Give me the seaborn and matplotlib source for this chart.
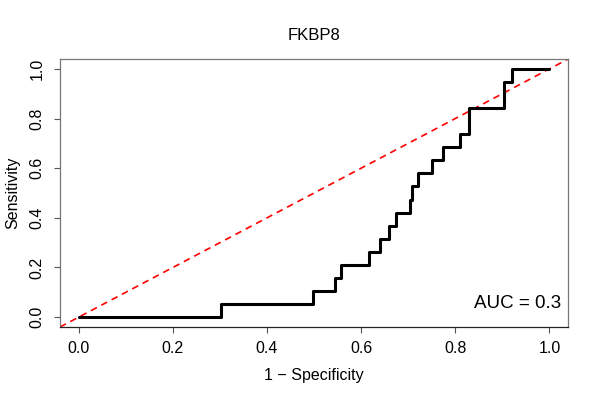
import matplotlib
matplotlib.use("Agg")
import matplotlib.pyplot as plt
import seaborn as sns
import pandas as pd

# ROC points (1 - specificity, sensitivity), 19 positives
fpr = [0.0, 0.303, 0.497, 0.544, 0.558, 0.616, 0.640, 0.659, 0.674, 0.703,
       0.708, 0.720, 0.750, 0.774, 0.810, 0.830, 0.904, 0.920, 1.0]
tpr_counts = [0, 1, 2, 3, 4, 5, 6, 7, 8, 9, 10, 11, 12, 13, 14, 16, 18, 19, 19]
n_pos = 19
gene = "FKBP8"
auc_text = "AUC = 0.3"
ticks = [0.0, 0.2, 0.4, 0.6, 0.8, 1.0]

sns.set_style("white")
plt.rcParams["font.family"] = ["Liberation Sans", "DejaVu Sans"]
plt.rcParams["text.color"] = "black"
plt.rcParams["axes.labelcolor"] = "black"
plt.rcParams["xtick.color"] = "black"
plt.rcParams["ytick.color"] = "black"

roc = pd.DataFrame({"fpr": fpr, "tpr": [c / n_pos for c in tpr_counts]})

fig = plt.figure(figsize=(6, 4), dpi=100)
ax = fig.add_axes([0.1, 0.1825, 0.847, 0.67])

# chance line across the whole frame
ax.axline((0, 0), slope=1, color="red", linestyle=(0, (4, 3)), linewidth=1.2)
sns.lineplot(data=roc, x="fpr", y="tpr", ax=ax, color="black", linewidth=2.2,
             estimator=None, sort=False, drawstyle="steps-post")

ax.set_xlim(-0.04, 1.04)
ax.set_ylim(-0.04, 1.04)
ax.set_xticks(ticks)
ax.set_yticks(ticks)
ax.set_xticklabels([f"{t:.1f}" for t in ticks], fontsize=11.5)
ax.set_yticklabels([f"{t:.1f}" for t in ticks], fontsize=11.5, rotation=90, va="center")
ax.tick_params(axis="both", direction="out", length=4, width=0.8,
               bottom=True, left=True, color="#555555", labelcolor="black")
ax.tick_params(axis="x", pad=6)
ax.tick_params(axis="y", pad=7)

for side in ["left", "top", "right"]:
    ax.spines[side].set_color("#777777")
    ax.spines[side].set_linewidth(0.9)
ax.spines["bottom"].set_color("#222222")
ax.spines["bottom"].set_linewidth(0.9)

ax.set_xlabel("1 \u2212 Specificity", fontsize=11.5, labelpad=9)
ax.set_ylabel("Sensitivity", fontsize=11.5, labelpad=7)
ax.set_title(gene, fontsize=12, pad=14)

ax.text(1.025, 0.056, auc_text, ha="right", va="center", fontsize=13.5)

fig.savefig("out.png", dpi=100)
plt.close(fig)
